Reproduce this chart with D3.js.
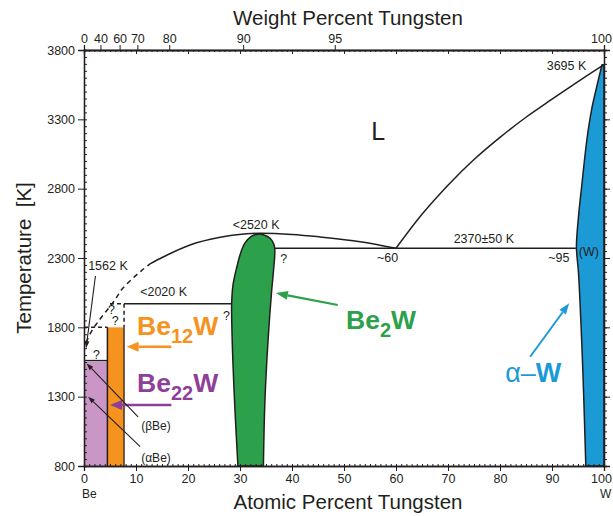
<!DOCTYPE html>
<html>
<head>
<meta charset="utf-8">
<script src="https://cdn.jsdelivr.net/npm/d3@7"></script>
<style>
  body { margin: 0; background: #fff; }
  svg text { font-family: "Liberation Sans", Arial, Helvetica, sans-serif; fill: #231f20; }
</style>
</head>
<body>
<div id="chart"></div>
<script>
// axis values
const atomicTicks = [0, 10, 20, 30, 40, 50, 60, 70, 80, 90, 100];
const tempTicks = [800, 1300, 1800, 2300, 2800, 3300, 3800];
const weightTicks = [0, 40, 60, 70, 80, 90, 95, 100];

// phase boundaries: [at% W, T (K)]
const liquidusW = [[60, 2370], [65, 2615], [70, 2825], [75, 3010], [80, 3170], [85, 3315], [90, 3445], [95, 3572], [100, 3695]];
const liquidusBe = [[12.7, 2258], [15.3, 2309], [20.4, 2394], [26.2, 2449], [31.3, 2474], [33.5, 2478], [40, 2470], [45.4, 2452], [53.1, 2418], [60, 2370]];
const liquidusBeDashed = [[0.4, 1690], [1.5, 1775], [2.5, 1830], [3.7, 1890], [5, 1950], [6.2, 2012], [7.3, 2075], [9, 2140], [11, 2207], [12.7, 2258]];
// Be2W: up the left side, over the top, down the right side
const be2w = [[29.6, 800], [29.0, 1228], [28.5, 1709], [28.4, 1973], [28.65, 2105], [29.4, 2237], [30.0, 2322], [30.9, 2405], [32.1, 2455],
              [33.5, 2472], [34.6, 2466], [35.8, 2442], [36.5, 2400], [36.7, 2358], [36.4, 2190], [36.1, 2069], [35.4, 1709], [34.8, 1276], [34.5, 800]];
// (W) solvus, from the bottom up to the melting point
const alphaW = [[96.5, 800], [96.1, 1300], [95.7, 1710], [95.1, 2190], [94.7, 2380], [95.1, 2600], [95.7, 2814], [96.7, 3151], [97.6, 3367], [98.6, 3535], [99.6, 3692]];
const be22w = { x0: 0, x1: 4.5, t0: 800, t1: 1550 };
const be12w = { x0: 4.5, x1: 7.7, t0: 800, t1: 1800 };

// horizontal invariant lines
const solidLines = [
  [[36.7, 2370], [94.6, 2370]],
  [[7.7, 1970], [28.4, 1970]],
  [[0, 1560], [4.5, 1560]]
];
const dashedLines = [
  [[5.0, 1970], [7.7, 1970]],
  [[7.7, 1970], [7.7, 1800]],
  [[0, 1800], [4.5, 1800]]
];

// annotations: text, at%, T, anchor, size
const labels = [
  ['L', 56.6, 3150, 'middle', 25],
  ['3695 K', 96.6, 3656, 'end', 12.5],
  ['<2520 K', 33.1, 2507, 'middle', 12.5],
  ['2370±50 K', 76.9, 2410, 'middle', 12.5],
  ['~60', 58.4, 2272, 'middle', 12.5],
  ['~95', 91.3, 2272, 'middle', 12.5],
  ['(W)', 97.1, 2317, 'middle', 12.5],
  ['?', 38.4, 2262, 'middle', 12.5],
  ['1562 K', 0.8, 2213, 'start', 12.5],
  ['<2020 K', 10.8, 2028, 'start', 12.5],
  ['?', 27.4, 1853, 'middle', 12.5],
  ['?', 5.3, 1896, 'middle', 12.5],
  ['?', 6.0, 1815, 'middle', 12.5],
  ['?', 2.4, 1572, 'middle', 12.5],
  ['(βBe)', 11.0, 1060, 'start', 12],
  ['(αBe)', 11.0, 831, 'start', 12]
];

// phase names: base, subscript, end, at%, T, color
const phaseNames = [
  ['Be', '12', 'W', 10.2, 1745, '#f6921e'],
  ['Be', '22', 'W', 10.2, 1336, '#8e3f97'],
  ['Be', '2', 'W', 50.4, 1790, '#2ca04a']
];

// arrows: from [at%, T], to [at%, T], color, width, head length, head width
const arrows = [
  [[16.8, 1660], [8.2, 1660], '#f6921e', 2.6, 12, 10],
  [[16.8, 1240], [5.0, 1240], '#8e3f97', 2.6, 12, 10],
  [[48.8, 1961], [36.9, 2047], '#2ca04a', 2.2, 12, 9],
  [[85.8, 1588], [93.3, 1973], '#1b9ad6', 2.0, 11, 8],
  [[10.4, 1155], [0.5, 1540], '#231f20', 1.1, 7, 5],
  [[10.8, 939], [0.8, 1300], '#231f20', 1.1, 7, 5],
  [[2.2, 2170], [0.4, 1650], '#231f20', 1.1, 7, 5]
];

const width = 613, height = 516;
const svg = d3.select('#chart').append('svg')
  .attr('width', width).attr('height', height);

const x = d3.scaleLinear().domain([0, 100]).range([84, 604]);
const y = d3.scaleLinear().domain([800, 3800]).range([466, 50]);

// weight percent -> atomic percent for the top axis
function wtToAt(w) {
  const nW = w / 183.84, nBe = (100 - w) / 9.012;
  return 100 * nW / (nW + nBe);
}

const line = d3.line().x(d => x(d[0])).y(d => y(d[1]));
const curve = d3.line().x(d => x(d[0])).y(d => y(d[1])).curve(d3.curveCatmullRom);

// regions
svg.append('rect')
  .attr('x', x(be22w.x0)).attr('y', y(be22w.t1))
  .attr('width', x(be22w.x1) - x(be22w.x0)).attr('height', y(be22w.t0) - y(be22w.t1))
  .attr('fill', '#c996c5');
svg.append('rect')
  .attr('x', x(be12w.x0)).attr('y', y(be12w.t1))
  .attr('width', x(be12w.x1) - x(be12w.x0)).attr('height', y(be12w.t0) - y(be12w.t1))
  .attr('fill', '#f6921e');
svg.append('line')
  .attr('x1', x(be12w.x0)).attr('x2', x(be12w.x0)).attr('y1', y(800)).attr('y2', y(1800))
  .attr('stroke', '#231f20').attr('stroke-width', 1.5);
svg.append('line')
  .attr('x1', x(be12w.x1)).attr('x2', x(be12w.x1)).attr('y1', y(800)).attr('y2', y(1800))
  .attr('stroke', '#231f20').attr('stroke-width', 1.3);

svg.append('path')
  .attr('d', curve(be2w) + 'Z')
  .attr('fill', '#2ca04a').attr('stroke', '#231f20').attr('stroke-width', 1.5);

svg.append('path')
  .attr('d', curve(alphaW) + 'L' + x(100) + ',' + y(3695) + 'L' + x(100) + ',' + y(800) + 'Z')
  .attr('fill', '#1b9ad6').attr('stroke', '#231f20').attr('stroke-width', 1.5);

// boundary lines
svg.append('path').attr('d', curve(liquidusW))
  .attr('fill', 'none').attr('stroke', '#231f20').attr('stroke-width', 1.5);
svg.append('path').attr('d', curve(liquidusBe))
  .attr('fill', 'none').attr('stroke', '#231f20').attr('stroke-width', 1.5);
svg.append('path').attr('d', curve(liquidusBeDashed))
  .attr('fill', 'none').attr('stroke', '#231f20').attr('stroke-width', 1.5)
  .attr('stroke-dasharray', '5,4');

solidLines.forEach(s => svg.append('path').attr('d', line(s))
  .attr('fill', 'none').attr('stroke', '#231f20').attr('stroke-width', 1.5));
dashedLines.forEach(s => svg.append('path').attr('d', line(s))
  .attr('fill', 'none').attr('stroke', '#231f20').attr('stroke-width', 1.5)
  .attr('stroke-dasharray', '4,3'));

// axes
function styleAxis(g) {
  g.select('.domain').attr('stroke', '#231f20').attr('stroke-width', 1.3);
  g.selectAll('.tick line').attr('stroke', '#231f20');
  g.selectAll('.tick text').attr('font-size', 12.5).attr('fill', '#231f20')
    .attr('font-family', '"Liberation Sans", Arial, sans-serif');
}

const bottomAxis = svg.append('g').attr('transform', 'translate(0,466)')
  .call(d3.axisBottom(x).tickValues(atomicTicks).tickSize(5).tickPadding(3).tickFormat(d3.format('d')))
  .call(styleAxis);
bottomAxis.selectAll('.tick text').filter(d => d === 100).attr('dx', -3);
svg.append('g').attr('transform', 'translate(0,466)')
  .call(d3.axisBottom(x).tickValues(d3.range(0, 101, 1)).tickSize(-2).tickFormat(''))
  .call(styleAxis);

svg.append('g').attr('transform', 'translate(84,0)')
  .call(d3.axisLeft(y).tickValues(tempTicks).tickSize(6).tickPadding(3).tickFormat(d3.format('d')))
  .call(styleAxis);
svg.append('g').attr('transform', 'translate(84,0)')
  .call(d3.axisLeft(y).tickValues(d3.range(800, 3801, 50)).tickSize(-3).tickFormat(''))
  .call(styleAxis);

svg.append('g').attr('transform', 'translate(604,0)')
  .call(d3.axisRight(y).tickValues(tempTicks).tickSize(6).tickFormat(''))
  .call(styleAxis);
svg.append('g').attr('transform', 'translate(604,0)')
  .call(d3.axisRight(y).tickValues(d3.range(800, 3801, 50)).tickSize(3).tickFormat(''))
  .call(styleAxis);

const topAxis = svg.append('g').attr('transform', 'translate(0,50)')
  .call(d3.axisTop(x).tickValues(weightTicks.map(wtToAt)).tickSize(5).tickPadding(2)
    .tickFormat((d, i) => weightTicks[i]))
  .call(styleAxis);
topAxis.selectAll('.tick text').filter((d, i) => i === weightTicks.length - 1).attr('dx', -3);
svg.append('g').attr('transform', 'translate(0,50)')
  .call(d3.axisTop(x).tickValues(atomicTicks).tickSize(-4).tickFormat(''))
  .call(styleAxis);
svg.append('g').attr('transform', 'translate(0,50)')
  .call(d3.axisTop(x).tickValues(d3.range(0, 101, 1)).tickSize(-2).tickFormat(''))
  .call(styleAxis);

// axis titles
svg.append('text').attr('x', 348).attr('y', 25).attr('text-anchor', 'middle')
  .attr('font-size', 20.5).text('Weight Percent Tungsten');
svg.append('text').attr('x', 348).attr('y', 509).attr('text-anchor', 'middle')
  .attr('font-size', 20.5).text('Atomic Percent Tungsten');
svg.append('text').attr('transform', 'translate(31,258) rotate(-90)').attr('text-anchor', 'middle')
  .attr('font-size', 20.5).text('Temperature\u00a0 [K]');
svg.append('text').attr('x', 82).attr('y', 498).attr('font-size', 12).text('Be');
svg.append('text').attr('x', 600).attr('y', 498).attr('font-size', 12).text('W');

// annotations
labels.forEach(([t, a, T, anchor, size]) => {
  svg.append('text').attr('x', x(a)).attr('y', y(T))
    .attr('text-anchor', anchor).attr('font-size', size).text(t);
});

phaseNames.forEach(([base, sub, end, a, T, color]) => {
  const t = svg.append('text').attr('x', x(a)).attr('y', y(T))
    .attr('font-size', 26.5).attr('font-weight', 'bold').style('fill', color);
  t.append('tspan').text(base);
  t.append('tspan').attr('dy', 8).attr('font-size', 20).text(sub);
  t.append('tspan').attr('dy', -8).text(end);
});

const aw = svg.append('text').attr('x', x(81.0)).attr('y', y(1408))
  .attr('font-size', 27).style('fill', '#1b9ad6');
aw.append('tspan').text('α–');
aw.append('tspan').attr('font-weight', 'bold').text('W');

// arrows
arrows.forEach(([from, to, color, w, hl, hw]) => {
  const x1 = x(from[0]), y1 = y(from[1]), x2 = x(to[0]), y2 = y(to[1]);
  const ang = Math.atan2(y2 - y1, x2 - x1);
  const bx = x2 - hl * Math.cos(ang), by = y2 - hl * Math.sin(ang);
  svg.append('line').attr('x1', x1).attr('y1', y1).attr('x2', bx).attr('y2', by)
    .attr('stroke', color).attr('stroke-width', w);
  const px = -Math.sin(ang) * hw / 2, py = Math.cos(ang) * hw / 2;
  svg.append('path')
    .attr('d', `M${x2},${y2}L${bx + px},${by + py}L${bx - px},${by - py}Z`)
    .attr('fill', color);
});
</script>
</body>
</html>
